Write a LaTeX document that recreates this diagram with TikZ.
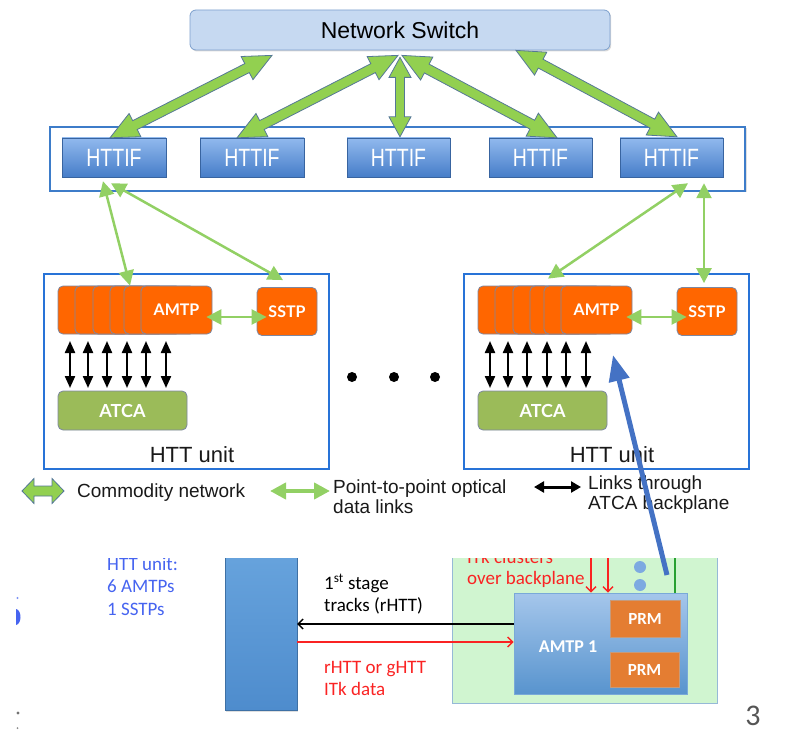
\documentclass[tikz,border=0pt]{standalone}
\usepackage{fontspec}
\setmainfont{Liberation Sans}
\newfontfamily\latofont{Lato}
\newfontfamily\calfont{Carlito}
\newfontfamily\narrowfont[FakeStretch=0.78]{Liberation Sans}
\usetikzlibrary{arrows.meta,calc,shadows}

\definecolor{swfill}{RGB}{198,217,241}
\definecolor{swdraw}{RGB}{125,160,205}
\definecolor{rowblue}{RGB}{61,124,201}
\definecolor{unitblue}{RGB}{40,115,215}
\definecolor{iftop}{RGB}{145,185,238}
\definecolor{ifbot}{RGB}{70,125,200}
\definecolor{amtporange}{RGB}{255,102,0}
\definecolor{boxedge}{RGB}{125,135,160}
\definecolor{atcagreen}{RGB}{155,187,89}
\definecolor{linkgreen}{RGB}{146,208,100}
\definecolor{netgreen}{RGB}{146,208,80}
\definecolor{netedge}{RGB}{85,120,150}
\definecolor{pointerblue}{RGB}{68,114,196}
\definecolor{noteblue}{RGB}{70,100,240}
\definecolor{hosttop}{RGB}{105,165,222}
\definecolor{hostbot}{RGB}{78,140,205}
\definecolor{itkred}{RGB}{250,35,35}
\definecolor{regiongreen}{RGB}{208,245,208}
\definecolor{regionedge}{RGB}{150,185,215}
\definecolor{amtponetop}{RGB}{165,198,235}
\definecolor{amtponebot}{RGB}{88,148,206}
\definecolor{prmorange}{RGB}{228,125,50}
\definecolor{dotblue}{RGB}{125,170,225}
\definecolor{wiregreen}{RGB}{40,160,50}
\definecolor{pagegrey}{RGB}{85,85,85}

% double-headed block arrow between two named points:
% #1 start, #2 end, #3 half shaft width, #4 half head width, #5 head length
\newcommand\fatlink[5]{%
  \coordinate (fa-a) at ($(#1)!#5!(#2)$);
  \coordinate (fa-b) at ($(#2)!#5!(#1)$);
  \draw[netlink] (#1) -- ($(fa-a)!#4!90:(#2)$) -- ($(fa-a)!#3!90:(#2)$)
    -- ($(fa-b)!#3!-90:(#1)$) -- ($(fa-b)!#4!-90:(#1)$) -- (#2)
    -- ($(fa-b)!#4!90:(#1)$) -- ($(fa-b)!#3!90:(#1)$)
    -- ($(fa-a)!#3!-90:(#2)$) -- ($(fa-a)!#4!-90:(#2)$) -- cycle;
}

% one HTT unit: #1 name prefix, #2 horizontal offset in pt
\newcommand\httunit[2]{%
  \begin{scope}[xshift=#2pt]
    \node[unitframe] (#1frame) at (186.5,371.5) {};
    \foreach \i/\l in {1/58,2/75,3/93,4/110,5/124}
      \node[amtpbox] (#1amtp\i) at (\l+35.5,310) {};
    \node[amtpbox] (#1amtp) at (176.5,310) {AMTP};
    \node[amtpbox, minimum width=60pt] (#1sstp) at (287,311.5) {SSTP};
    \draw[optlink] ($(#1amtp.east)+(-6,7)$) -- ($(#1sstp.west)+(10,5.5)$);
    \node[atcabox] (#1atca) at (122.5,410.5) {ATCA};
    \foreach \i/\bx in {1/70,2/88,3/107,4/127,5/146,6/166} {
      \coordinate (#1bpt\i) at (\bx,341);
      \coordinate (#1bpb\i) at (\bx,388);
      \draw[bplink] (#1bpt\i) -- (#1bpb\i);
    }
    \node[unitlabel] (#1label) at (192,455) {HTT unit};
  \end{scope}
}

\begin{document}
\begin{tikzpicture}[x=1pt,y=-1pt,
  switchbox/.style={draw=swdraw, fill=swfill, rounded corners=6pt, line width=0.8pt,
    minimum width=420pt, minimum height=40pt,
    drop shadow={opacity=0.3, shadow xshift=1.2pt, shadow yshift=-1.5pt},
    font=\fontsize{23}{28}\selectfont},
  rowframe/.style={draw=rowblue, fill=white, line width=2pt, minimum width=695pt,
    minimum height=64pt, drop shadow={opacity=0.25, shadow xshift=1.5pt, shadow yshift=-1.5pt}},
  ifbox/.style={draw=ifbot!80!black, line width=0.4pt, top color=iftop, bottom color=ifbot,
    minimum width=104pt, minimum height=39pt, inner sep=0pt, text=white,
    drop shadow={opacity=0.3, shadow xshift=1pt, shadow yshift=-1.5pt},
    font=\narrowfont\fontsize{25}{28}\selectfont},
  unitframe/.style={draw=unitblue, line width=2.5pt, fill=white, minimum width=285pt,
    minimum height=195pt, inner sep=0pt},
  amtpbox/.style={draw=boxedge, fill=amtporange, rounded corners=5pt, line width=0.8pt,
    minimum width=71pt, minimum height=48pt, inner sep=0pt, text=white,
    font=\latofont\bfseries\fontsize{16}{18}\selectfont},
  atcabox/.style={draw=boxedge, fill=atcagreen, rounded corners=5pt, line width=0.8pt,
    minimum width=129pt, minimum height=39pt, inner sep=0pt, text=white,
    font=\latofont\bfseries\fontsize{18}{20}\selectfont},
  unitlabel/.style={font=\fontsize{22}{26}\selectfont, text=black!90},
  netlink/.style={fill=netgreen, draw=netedge, line width=0.8pt},
  optlink/.style={draw=linkgreen, line width=2.5pt,
    {Triangle[length=15pt,width=15pt]}-{Triangle[length=15pt,width=15pt]}},
  bplink/.style={draw=black, line width=2.2pt,
    {Triangle[length=12pt,width=10pt]}-{Triangle[length=12pt,width=10pt]}},
  legtext/.style={font=\fontsize{19}{20}\selectfont, align=left, anchor=west,
    inner sep=0pt, text=black!90},
  dotnode/.style={circle, fill=black, minimum size=10pt, inner sep=0pt},
  btext/.style={font=\calfont\fontsize{19}{22}\selectfont, anchor=base west, inner sep=0pt},
  thinarrow/.style={line width=1.4pt, -{Straight Barb[length=5pt,width=10pt]}},
  ptrarrow/.style={draw=pointerblue, line width=5pt, -{Triangle[length=26pt,width=20pt]}}
]
\useasboundingbox (0,0) rectangle (785,733);

% switch and interface row
\node[switchbox] (sw) at (400,30) {Network Switch};
\node[rowframe] (ifrow) at (397.5,159) {};
\node[ifbox] (if1) at (114,157.5) {HTTIF};
\node[ifbox] (if2) at (252,157.5) {HTTIF};
\node[ifbox, minimum width=103pt] (if3) at (398.5,157.5) {HTTIF};
\node[ifbox, minimum width=103pt] (if4) at (540.5,157.5) {HTTIF};
\node[ifbox, minimum width=103pt] (if5) at (671.5,157.5) {HTTIF};

% commodity network links
\coordinate (n1a) at ($(sw.south)+(-128,5)$);
\coordinate (n1b) at ($(if1.north)+(-4,0)$);
\coordinate (n2a) at ($(sw.south)+(-2,5)$);
\coordinate (n2b) at ($(if2.north)+(-15,0)$);
\coordinate (n3a) at ($(sw.south)+(0,7)$);
\coordinate (n3b) at ($(if3.north)+(1.5,-1)$);
\coordinate (n4a) at ($(sw.south)+(2,5)$);
\coordinate (n4b) at ($(if4.north)+(16.5,0)$);
\coordinate (n5a) at ($(sw.south)+(116,0)$);
\coordinate (n5b) at ($(if5.north)+(5.5,-1)$);
\fatlink{n1a}{n1b}{5pt}{13pt}{28pt}
\fatlink{n2a}{n2b}{5pt}{13pt}{28pt}
\fatlink{n4a}{n4b}{5pt}{13pt}{28pt}
\fatlink{n5a}{n5b}{5pt}{13pt}{28pt}
\fatlink{n3a}{n3b}{4.5pt}{11pt}{20pt}

% the two HTT units
\httunit{ua}{0}
\httunit{ub}{420}

% optical links from the interfaces
\coordinate (o1a) at ($(if1.south)+(-11,4)$);
\coordinate (o2a) at ($(if1.south)+(-3,6)$);
\coordinate (o3a) at ($(if5.south)+(16.5,6)$);
\coordinate (o4a) at ($(if5.south)+(32.5,6)$);
\draw[optlink] (o1a) -- ($(uaamtp5.north)+(-29.5,0)$);
\draw[optlink] (o2a) -- ($(uasstp.north)+(-4,-7)$);
\draw[optlink] (o3a) -- ($(ubamtp4.north)+(-17.5,-7)$);
\draw[optlink] (o4a) -- ($(ubsstp.north)+(-3,-4)$);

% ellipsis between the units
\node[dotnode] (dot1) at (352,377) {};
\node[dotnode] (dot2) at (394,377) {};
\node[dotnode] (dot3) at (435,377) {};

% legend
\coordinate (lg1a) at (22,491);
\coordinate (lg1b) at (64,491);
\fatlink{lg1a}{lg1b}{5pt}{12.5pt}{12pt}
\node[legtext] (lg1t) at (77,493) {Commodity network};
\coordinate (lg2a) at (270,491);
\coordinate (lg2b) at (330,491);
\draw[draw=linkgreen, line width=4pt,
  {Triangle[length=16pt,width=16pt]}-{Triangle[length=16pt,width=16pt]}] (lg2a) -- (lg2b);
\node[legtext] (lg2t) at (333,497) {Point-to-point optical\\data links};
\coordinate (lg3a) at (534,487);
\coordinate (lg3b) at (581,487);
\draw[draw=black, line width=3pt,
  {Triangle[length=10pt,width=11pt]}-{Triangle[length=10pt,width=11pt]}] (lg3a) -- (lg3b);
\node[legtext] (lg3t) at (588,495) {Links through\\ATCA backplane};

% lower panel: AMTP board detail
\begin{scope}
  \clip (0,558) rectangle (785,733);
  \node[btext, text=noteblue] (note1) at (107,570) {HTT unit:};
  \node[btext, text=noteblue] (note2) at (107,592) {6 AMTPs};
  \node[btext, text=noteblue] (note3) at (107,615) {1 SSTPs};
  \fill[noteblue] (16,609) .. controls (22,610) and (22,624) .. (16,625) -- cycle;
  \fill[noteblue!70] (17.5,598) circle[radius=1.2];
  \fill[black!55] (18,713) circle[radius=1.6];
  \fill[black!45] (17.5,728) circle[radius=1];

  \node[draw=hostbot!80!black, line width=0.4pt, top color=hosttop, bottom color=hostbot,
    minimum width=72pt, minimum height=170pt, inner sep=0pt,
    drop shadow={opacity=0.25, shadow xshift=1pt, shadow yshift=-1.5pt}] (host) at (261,625) {};

  \node[draw=regionedge, fill=regiongreen, line width=1pt, minimum width=265pt,
    minimum height=163pt, inner sep=0pt] (region) at (584.5,621.5) {};
  \node[draw=amtponebot!80!white, line width=0.8pt, top color=amtponetop, bottom color=amtponebot,
    minimum width=173pt, minimum height=101pt, inner sep=0pt] (amtpone) at (600.5,643.5) {};
  \node[text=white, font=\calfont\bfseries\fontsize{18}{22}\selectfont] (amtponelabel)
    at (568,647) {AMTP 1};
  \node[draw=prmorange!70!black!60, fill=prmorange, minimum width=70pt, minimum height=37pt,
    inner sep=0pt, text=white, font=\calfont\bfseries\fontsize{17}{20}\selectfont] (prm1)
    at (645,618.5) {PRM};
  \node[draw=prmorange!70!black!60, fill=prmorange, minimum width=69pt, minimum height=35pt,
    inner sep=0pt, text=white, font=\calfont\bfseries\fontsize{17}{20}\selectfont] (prm2)
    at (644.5,669.5) {PRM};

  \draw[thinarrow, black] ($(amtpone.west)+(0,-19.5)$) -- ($(host.east |- amtpone.west)+(0,-19.5)$);
  \draw[thinarrow, itkred] ($(host.east |- amtpone.west)+(0,-1.5)$) -- ($(amtpone.west)+(0,-1.5)$);
  \node[btext] (trk1) at (324,589) {1\textsuperscript{st} stage};
  \node[btext] (trk2) at (324,611) {tracks (rHTT)};
  \node[btext, text=itkred] (dat1) at (324,673) {rHTT or gHTT};
  \node[btext, text=itkred] (dat2) at (324,695) {ITk data};

  \node[btext, text=itkred] (clu1) at (467,563) {ITk clusters};
  \node[btext, text=itkred] (clu2) at (467,584) {over backplane};
  \coordinate (bp1) at (591,545);
  \coordinate (bp2) at (608,545);
  \draw[thinarrow, itkred] (bp1) -- (bp1 |- amtpone.north);
  \draw[thinarrow, itkred] (bp2) -- (bp2 |- amtpone.north);
  \fill[dotblue] (640,567) circle[radius=6];
  \fill[dotblue] (640,585) circle[radius=6];
  \coordinate (gw) at (675,545);
  \draw[wiregreen, line width=2pt] (gw) -- (gw |- amtpone.north);
\end{scope}

\node[font=\calfont\fontsize{30}{32}\selectfont, text=pagegrey, inner sep=0pt] (page) at (753,716) {3};

% pointer from the board detail up into the unit
\coordinate (ptrtail) at (667,575);
\coordinate (ptrtip) at (613,355);
\draw[ptrarrow] (ptrtail) -- (ptrtip);
\end{tikzpicture}
\end{document}
